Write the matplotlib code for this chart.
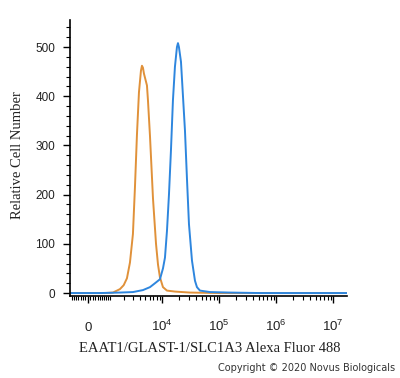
import numpy as np
import matplotlib
matplotlib.use("Agg")
import matplotlib.pyplot as plt
from matplotlib.ticker import FixedLocator, MultipleLocator

# biexponential-like display: arcsinh with width W, in decades
W = 1000.0

# intensity values
orange_x = [-790, 742, 1191, 1684, 2000, 2312, 2637, 2995, 3263, 3550, 3860, 4195, 4373,
            4557, 4750, 5157, 5374, 5600, 6080, 6882, 7784, 8436, 9133, 10326,
            12139, 16770, 30752, 103500, 1.75e7]
orange_y = [0, 0, 1, 8, 16, 30, 62, 120, 215, 322, 408, 452, 462,
            458, 446, 430, 422, 392, 320, 192, 100, 58, 32, 12,
            5, 3, 1, 0, 0]

blue_x = [-790, 504, 1684, 2995, 4557, 6080, 7473, 9133, 10326, 11198, 12139,
          13166, 14273, 15469, 16770, 18188, 18952, 19712, 21415, 23214, 25165,
          27281, 29572, 33393, 37693, 40844, 46097, 69000, 155000, 521000, 1.75e7]
blue_y = [0, 0, 1, 2, 6, 12, 20, 28, 50, 72, 126,
          200, 290, 392, 460, 500, 508, 500, 470, 400, 330,
          232, 140, 66, 25, 12, 5, 2, 1, 0, 0]

x_major = [0, 1e4, 1e5, 1e6, 1e7]
x_labels = ['0', '10$^4$', '10$^5$', '10$^6$', '10$^7$']
y_major = [0, 100, 200, 300, 400, 500]


def fwd(x):
    return np.arcsinh(np.asarray(x) / W) / np.log(10)


def inv(y):
    return W * np.sinh(np.asarray(y) * np.log(10))


plt.rcParams['mathtext.fontset'] = 'custom'
plt.rcParams['mathtext.rm'] = 'Liberation Sans'
plt.rcParams['mathtext.default'] = 'rm'

fig = plt.figure(figsize=(4.0, 3.78), dpi=100)
ax = fig.add_axes([70 / 400, 1 - 296 / 378, 277 / 400, 276 / 378])

ax.plot(orange_x, orange_y, color='#E0913A', lw=1.4)
ax.plot(blue_x, blue_y, color='#2E86DE', lw=1.4)

ax.set_xscale('function', functions=(fwd, inv))
ax.set_xlim(-790, 1.75e7)
ax.set_ylim(-6, 555)

minors = [-700, -600, -500, -400, -300, -200, -100]
for dec in [100, 1000, 1e4, 1e5, 1e6]:
    minors += [k * dec for k in range(1, 10) if k * dec not in x_major]
ax.xaxis.set_major_locator(FixedLocator(x_major))
ax.xaxis.set_minor_locator(FixedLocator(minors))
ax.set_xticks(x_major, x_labels)

ax.yaxis.set_major_locator(FixedLocator(y_major))
ax.yaxis.set_minor_locator(MultipleLocator(20))

for s in ['top', 'right']:
    ax.spines[s].set_visible(False)
for s in ['left', 'bottom']:
    ax.spines[s].set_linewidth(1.2)

ax.tick_params(axis='both', which='major', length=5, width=1.0, colors='black',
               labelcolor='#222222', labelsize=8.5)
ax.tick_params(axis='both', which='minor', length=3, width=0.8, colors='black')
ax.tick_params(axis='y', which='major', pad=5.5)
ax.tick_params(axis='x', which='major', pad=20)
for lbl in ax.get_yticklabels() + ax.get_xticklabels():
    lbl.set_family('Liberation Sans')
for lbl in ax.get_xticklabels():
    lbl.set_verticalalignment('baseline')
    lbl.set_fontsize(9.5)

ax.set_xlabel('EAAT1/GLAST-1/SLC1A3 Alexa Fluor 488', family='Liberation Serif',
              fontsize=10.5, color='#222222')
ax.xaxis.set_label_coords(0.505, -0.168)
ax.set_ylabel('Relative Cell Number', family='Liberation Serif', fontsize=10.5,
              color='#222222')
ax.yaxis.set_label_coords(-0.165, 0.51)

fig.text(0.988, 1 - 368 / 378, 'Copyright \u00a9 2020 Novus Biologicals',
         ha='right', va='center', fontsize=7, color='#333333', family='DejaVu Sans')

fig.savefig('out.png', dpi=100)
